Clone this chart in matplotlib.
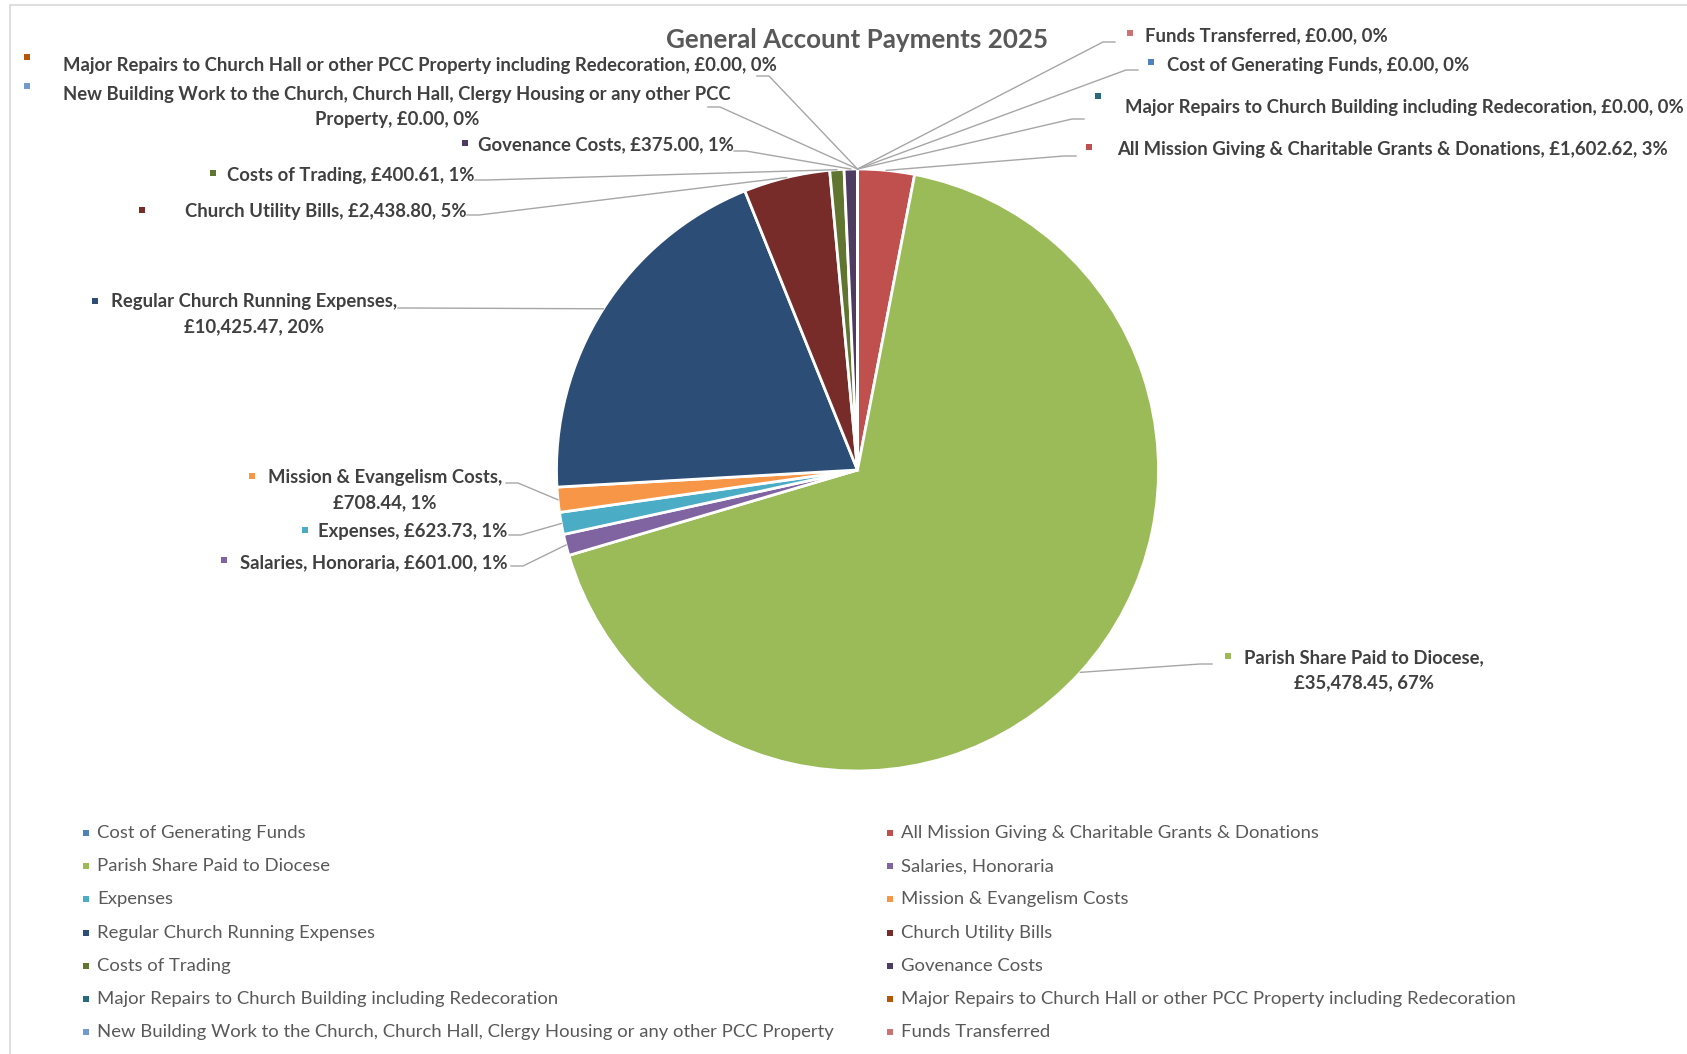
import matplotlib
matplotlib.use("Agg")
from matplotlib import pyplot as plt
from matplotlib.patches import Rectangle
import numpy as np

plt.rcParams['font.family'] = ['Lato', 'DejaVu Sans']

# data (order = Excel series order, clockwise from 12 o'clock)
categories = [
    'Cost of Generating Funds',
    'All Mission Giving & Charitable Grants & Donations',
    'Parish Share Paid to Diocese',
    'Salaries, Honoraria',
    'Expenses',
    'Mission & Evangelism Costs',
    'Regular Church Running Expenses',
    'Church Utility Bills',
    'Costs of Trading',
    'Govenance Costs',
    'Major Repairs to Church Building including Redecoration',
    'Major Repairs to Church Hall or other PCC Property including Redecoration',
    'New Building Work to the Church, Church Hall, Clergy Housing or any other PCC Property',
    'Funds Transferred',
]
payments = [0.00, 1602.62, 35478.45, 601.00, 623.73, 708.44, 10425.47,
            2438.80, 400.61, 375.00, 0.00, 0.00, 0.00, 0.00]
colours = ['#4F81BD', '#C0504D', '#9BBB59', '#8064A2', '#4BACC6', '#F79646',
           '#2C4D75', '#772C2A', '#5F7530', '#4D3B62', '#276A7C', '#B65708',
           '#729ACA', '#CD7371']
title = 'General Account Payments 2025'

# label layout, pixels from top-left: text centre, key square, leader start, line break
label_xy = [(1318, 65), (1392, 150), (1364, 670), (374, 563), (413, 532), (385, 490),
            (254, 314), (326, 211), (351, 175), (606, 145), (1404, 107), (420, 66),
            (397, 107), (1266, 36)]
key_xy = [(1151, 62), (1089, 147), (1228, 656), (224, 560), (305, 530), (252, 476),
          (95, 301), (142, 210), (213, 173), (465, 143), (1098, 96), (27, 57),
          (27, 86), (1130, 33)]
leader_xy = [(1138, 70), (1076, 156), (1212, 664), (511, 566), (509, 535), (506, 483),
             (398, 308), (467, 215), (475, 180), (734, 151), (1084, 119), (757, 76),
             (708, 107), (1115, 42)]
breaks = [None, None, ' £', None, None, ' £', ' £', None, None, None, None, None,
          ' Property', None]

W, H = 1687, 1054
fig = plt.figure(figsize=(W / 100, H / 100), dpi=100)
ax = fig.add_axes([0, 0, 1, 1])

cx, cy, R = 857.5, 470, 301
wedges, _ = ax.pie(payments, colors=colours, startangle=90, counterclock=False,
                   center=(cx, H - cy), radius=R,
                   wedgeprops=dict(edgecolor='white', linewidth=2))
ax.set_xlim(0, W)
ax.set_ylim(0, H)
ax.set_aspect('equal')
ax.axis('off')

# chart area border
ax.add_patch(Rectangle((10, -10), W, H - 5 + 10, fill=False, edgecolor='#D9D9D9', lw=1.2))

ax.text(cx, H - 40, title, ha='center', va='center', fontsize=18.7,
        fontweight='bold', color='#595959')

total = sum(payments)
for i, (name, v) in enumerate(zip(categories, payments)):
    lab = f"{name}, £{v:,.2f}, {100 * v / total:.0f}%"
    if breaks[i]:
        lab = lab.replace(breaks[i], '\n' + breaks[i].strip(), 1)
    tx, ty = label_xy[i]
    ax.text(tx, H - ty, lab, ha='center', va='center', multialignment='center',
            fontsize=13.3, fontweight='bold', color='#404040', linespacing=1.6)
    kx, ky = key_xy[i]
    ax.scatter([kx], [H - ky], marker='s', s=22, color=colours[i], lw=0)
    # leader line to wedge rim at mid angle
    w = wedges[i]
    mid = np.deg2rad((w.theta1 + w.theta2) / 2)
    px, py = cx + R * np.cos(mid), H - cy + R * np.sin(mid)
    lx, ly = leader_xy[i]
    step = 12 if lx < cx else -12
    ax.plot([lx, lx + step, px], [H - ly, H - ly, py], color='#A6A6A6', lw=1)

# legend, two columns filled row by row
for i, name in enumerate(categories):
    row, col = i // 2, i % 2
    y = H - (833 + 33.2 * row)
    mx = [86, 890][col]
    ax.scatter([mx], [y], marker='s', s=16, color=colours[i], lw=0)
    ax.text(mx + 11, y, name, ha='left', va='center', fontsize=13.3, color='#595959')

fig.savefig('out.png', dpi=100)
